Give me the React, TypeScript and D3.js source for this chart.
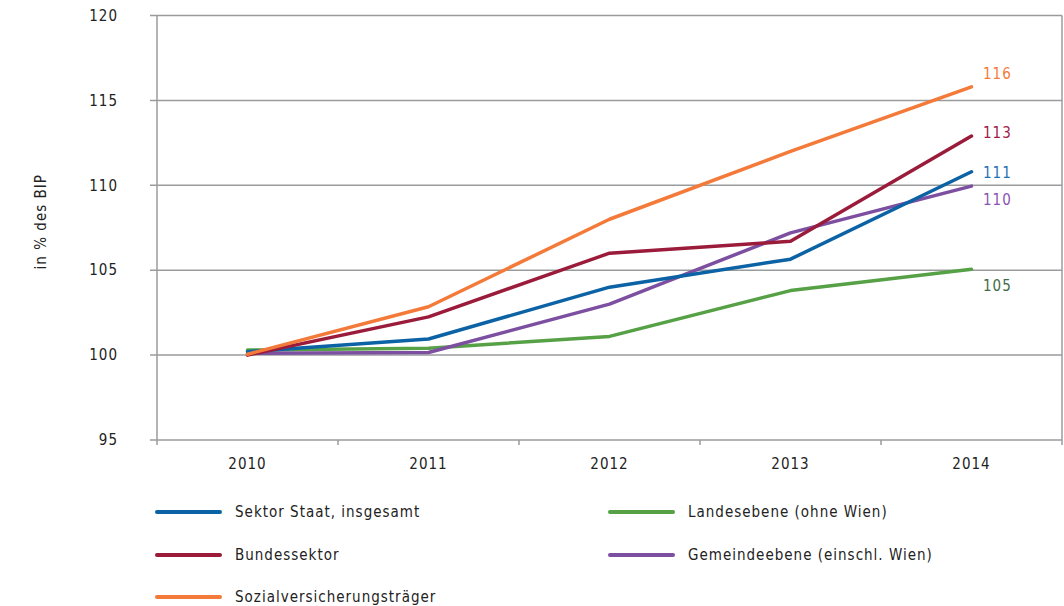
import React from "react";
import * as d3 from "d3";

const years = ["2010", "2011", "2012", "2013", "2014"];
const yTicks = [95, 100, 105, 110, 115, 120];

const seriesNames = [
  "Sektor Staat, insgesamt",
  "Bundessektor",
  "Sozialversicherungsträger",
  "Landesebene (ohne Wien)",
  "Gemeindeebene (einschl. Wien)",
];
const seriesColors = ["#0B62A4", "#9B1B3A", "#F47A3A", "#56A046", "#7C4FA1"];
const labelColors = ["#1F70B4", "#A0204A", "#F47A3A", "#3E6B48", "#8B52B3"];
const staat = [100.2, 100.95, 104.0, 105.65, 110.8];
const bund = [100.0, 102.25, 106.0, 106.7, 112.9];
const sozial = [100.05, 102.85, 108.0, 112.0, 115.8];
const land = [100.3, 100.4, 101.1, 103.8, 105.05];
const gemeinde = [100.1, 100.15, 103.0, 107.2, 109.95];
const endLabels = ["111", "113", "116", "105", "110"];
const labelOffsets = [1, -3, -13, 16, 14];

const allSeries = [staat, bund, sozial, land, gemeinde];

export default function App() {
  const W = 1064, H = 606;
  const left = 157, right = 1062, top = 15.5, bottom = 440;
  const x = d3.scaleBand<string>().domain(years).range([left, right]);
  const y = d3.scaleLinear().domain([95, 120]).range([bottom, top]);
  const line = d3
    .line<number>()
    .x((_, i) => (x(years[i]) as number) + x.bandwidth() / 2)
    .y((d) => y(d));
  const font = "'DejaVu Sans Condensed', 'DejaVu Sans', sans-serif";
  const drawOrder = [3, 4, 0, 1, 2];
  const legendPos = [
    [157, 512],
    [157, 555],
    [157, 597],
    [610, 512],
    [610, 555],
  ];
  const bandEdges = years.map((yr) => x(yr) as number).concat([right]);
  return (
    <svg width={W} height={H} style={{ position: "absolute", left: 0, top: 0 }} fontFamily={font} letterSpacing={1}>
      <rect width={W} height={H} fill="#fff" />
      {yTicks.map((t) => (
        <g key={t}>
          <line x1={150} x2={right} y1={y(t)} y2={y(t)} stroke="#9A9B9D" strokeWidth={1.5} />
          <text x={118} y={y(t)} dy="0.35em" textAnchor="end" fontSize={15} fill="#222">
            {t}
          </text>
        </g>
      ))}
      <line x1={left} x2={left} y1={top} y2={bottom} stroke="#9A9B9D" strokeWidth={1.5} />
      <line x1={right} x2={right} y1={top} y2={bottom} stroke="#9A9B9D" strokeWidth={1.5} />
      {bandEdges.map((e, i) => (
        <line key={i} x1={e} x2={e} y1={bottom} y2={bottom + 5} stroke="#9A9B9D" strokeWidth={1.5} />
      ))}
      {years.map((yr) => (
        <text
          key={yr}
          x={(x(yr) as number) + x.bandwidth() / 2}
          y={464}
          dy="0.35em"
          textAnchor="middle"
          fontSize={15}
          fill="#222"
        >
          {yr}
        </text>
      ))}
      <text
        transform={`translate(41,${(top + bottom) / 2 - 6}) rotate(-90)`}
        textAnchor="middle"
        dy="0.35em"
        fontSize={15}
        fill="#222"
      >
        in % des BIP
      </text>
      {drawOrder.map((i) => (
        <path
          key={i}
          d={line(allSeries[i]) || ""}
          fill="none"
          stroke={seriesColors[i]}
          strokeWidth={3.5}
          strokeLinejoin="round"
          strokeLinecap="round"
        />
      ))}
      {allSeries.map((s, i) => (
        <text
          key={i}
          x={983}
          y={y(s[s.length - 1]) + labelOffsets[i]}
          dy="0.35em"
          fontSize={15}
          fill={labelColors[i]}
        >
          {endLabels[i]}
        </text>
      ))}
      {seriesNames.map((n, i) => (
        <g key={n}>
          <line
            x1={legendPos[i][0]}
            x2={legendPos[i][0] + 63}
            y1={legendPos[i][1]}
            y2={legendPos[i][1]}
            stroke={seriesColors[i]}
            strokeWidth={4}
            strokeLinecap="round"
          />
          <text x={legendPos[i][0] + 78} y={legendPos[i][1]} dy="0.35em" fontSize={15} fill="#222">
            {n}
          </text>
        </g>
      ))}
    </svg>
  );
}
